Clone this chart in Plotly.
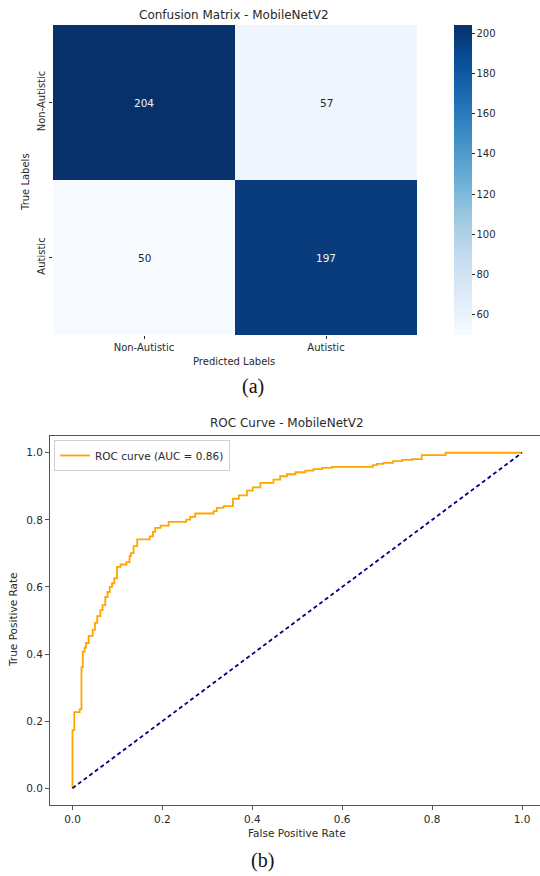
import numpy as np
import plotly.graph_objects as go
import plotly.colors as pc

# ---- Confusion matrix data ----
class_labels = ["Non-Autistic", "Autistic"]
confusion_counts = [[204, 57],
                    [50, 197]]
colorbar_ticks = [60, 80, 100, 120, 140, 160, 180, 200]

# ---- ROC curve data (corner points of the step curve) ----
fpr = [0.000, 0.000, 0.004, 0.016, 0.020, 0.023, 0.027, 0.030, 0.036, 0.045,
       0.050, 0.055, 0.062, 0.067, 0.073, 0.078, 0.083, 0.088, 0.093, 0.099,
       0.107, 0.120, 0.127, 0.130, 0.136, 0.144, 0.172, 0.179, 0.184, 0.196,
       0.214, 0.253, 0.262, 0.273, 0.314, 0.321, 0.336, 0.357, 0.370, 0.388,
       0.401, 0.418, 0.447, 0.462, 0.477, 0.496, 0.518, 0.536, 0.555, 0.577,
       0.668, 0.677, 0.692, 0.713, 0.733, 0.755, 0.777, 0.830, 1.000]
tpr = [0.000, 0.173, 0.227, 0.235, 0.361, 0.407, 0.419, 0.433, 0.454, 0.472,
       0.493, 0.513, 0.531, 0.546, 0.570, 0.585, 0.600, 0.611, 0.626, 0.660,
       0.667, 0.674, 0.692, 0.701, 0.722, 0.742, 0.751, 0.764, 0.776, 0.783,
       0.794, 0.801, 0.809, 0.819, 0.826, 0.836, 0.841, 0.863, 0.873, 0.887,
       0.897, 0.910, 0.920, 0.930, 0.936, 0.942, 0.947, 0.951, 0.955, 0.958,
       0.963, 0.967, 0.970, 0.975, 0.979, 0.981, 0.993, 1.000, 1.000]
chance_line = [0.0, 1.0]
roc_ticks = [0.0, 0.2, 0.4, 0.6, 0.8, 1.0]

# area under the step curve (horizontal run at each level, then vertical rise)
f = np.array(fpr)
t = np.array(tpr)
auc_value = float(np.sum(np.diff(f) * t[:-1]))

W, H = 540, 876
FONT = "DejaVu Sans"
TXT = "#2a2a2a"
SPINE = "#555555"

def px(xp):
    return xp / W

def py(yp):
    return 1 - yp / H

zmin = min(min(r) for r in confusion_counts)
zmax = max(max(r) for r in confusion_counts)

fig = go.Figure()

fig.add_trace(go.Heatmap(
    z=confusion_counts, x=class_labels, y=class_labels,
    xaxis="x", yaxis="y",
    colorscale=pc.sequential.Blues, zmin=zmin, zmax=zmax,
    showscale=True, hoverinfo="skip",
    colorbar=dict(
        x=px(454), xanchor="left", xpad=0,
        y=py(25), yanchor="top", ypad=0,
        len=310 / H, lenmode="fraction",
        thickness=18, thicknessmode="pixels",
        outlinewidth=0,
        tickvals=colorbar_ticks, ticks="outside", ticklen=3,
        tickcolor=TXT, tickfont=dict(family=FONT, size=10, color=TXT),
    ),
))

# cell counts, light text on dark cells and dark text on light cells
mid = (zmin + zmax) / 2
annotations = []
for i, row_label in enumerate(class_labels):
    for j, col_label in enumerate(class_labels):
        v = confusion_counts[i][j]
        annotations.append(dict(
            x=col_label, y=row_label, xref="x", yref="y",
            text=str(v), showarrow=False,
            font=dict(family=FONT, size=10.5,
                      color="#f2f2f2" if v > mid else "#262626"),
        ))

fig.add_trace(go.Scatter(
    x=fpr, y=tpr, xaxis="x2", yaxis="y2",
    mode="lines", line=dict(color="#FFA500", width=1.8, shape="hv"),
    name=f"ROC curve (AUC = {auc_value:.2f})", showlegend=True,
    hoverinfo="skip",
))
fig.add_trace(go.Scatter(
    x=chance_line, y=chance_line, xaxis="x2", yaxis="y2",
    mode="lines", line=dict(color="#000080", width=1.8, dash="4px,3px"),
    showlegend=False, hoverinfo="skip",
))

# titles and labels
def label(text, x, y, size=10, angle=0, family=FONT, color=TXT):
    annotations.append(dict(
        text=text, x=px(x), y=py(y), xref="paper", yref="paper",
        xanchor="center", yanchor="middle", showarrow=False, textangle=angle,
        font=dict(family=family, size=size, color=color),
    ))

label("Confusion Matrix - MobileNetV2", 234, 15, size=12)
label("Predicted Labels", 234, 361, size=10)
label("True Labels", 25, 182, size=10, angle=-90)
label("(a)", 253, 386, size=20, family="Liberation Serif", color="#111111")

label("ROC Curve - MobileNetV2", 287, 423, size=12)
label("False Positive Rate", 297, 833, size=10.5)
label("True Positive Rate", 13, 620, size=10.5, angle=-90)
label("(b)", 262, 860, size=20, family="Liberation Serif", color="#111111")

fig.update_layout(
    width=W, height=H,
    margin=dict(l=0, r=0, t=0, b=0),
    paper_bgcolor="white", plot_bgcolor="white",
    font=dict(family=FONT, size=10, color=TXT),
    annotations=annotations,
    xaxis=dict(
        domain=[px(53), px(417)], anchor="y",
        showgrid=False, zeroline=False, showline=False,
        ticks="outside", ticklen=3, tickcolor=TXT,
        tickfont=dict(family=FONT, size=10, color=TXT),
    ),
    yaxis=dict(
        domain=[py(335), py(25)], anchor="x",
        autorange="reversed",
        showgrid=False, zeroline=False, showline=False,
        ticks="outside", ticklen=3, tickcolor=TXT, tickangle=-90,
        tickfont=dict(family=FONT, size=10, color=TXT),
    ),
    xaxis2=dict(
        domain=[px(50), 1.0], anchor="y2",
        range=[-0.05, 1.04],
        tickvals=roc_ticks, tickformat=".1f",
        showgrid=False, zeroline=False,
        showline=True, linecolor=SPINE, linewidth=1, mirror=True,
        ticks="outside", ticklen=4, tickcolor=SPINE,
        tickfont=dict(family=FONT, size=10.5, color=TXT),
    ),
    yaxis2=dict(
        domain=[py(805), py(436)], anchor="x2",
        range=[-0.05, 1.05],
        tickvals=roc_ticks, tickformat=".1f",
        showgrid=False, zeroline=False,
        showline=True, linecolor=SPINE, linewidth=1,
        ticks="outside", ticklen=4, tickcolor=SPINE,
        tickfont=dict(family=FONT, size=10.5, color=TXT),
    ),
    legend=dict(
        x=px(54), y=py(440), xanchor="left", yanchor="top",
        bgcolor="white", bordercolor="#d0d0d0", borderwidth=1,
        font=dict(family=FONT, size=10.5, color=TXT),
        itemwidth=30, tracegroupgap=0,
    ),
)

fig.write_html("out.html")
